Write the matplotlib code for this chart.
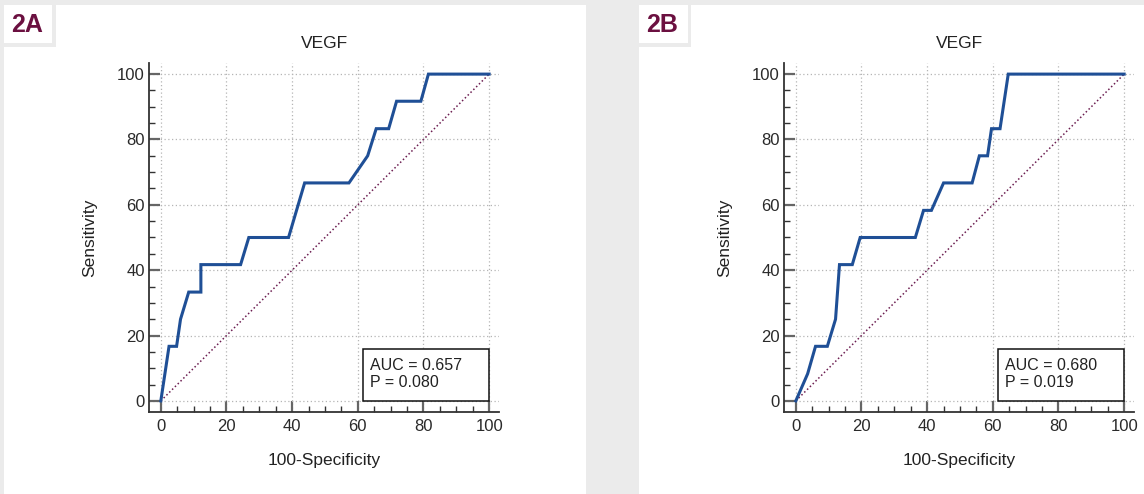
import matplotlib
matplotlib.use("Agg")
import matplotlib.pyplot as plt
from matplotlib.patches import Rectangle
from matplotlib import font_manager

# ---------------- data ----------------
panel_labels = ["2A", "2B"]
titles = ["VEGF", "VEGF"]
spec_a = [0, 2.5, 4.8, 6.0, 8.5, 12.2, 12.2, 24.3, 26.8, 38.9, 43.8, 57.3, 63.0, 65.6, 69.4, 71.8, 79.2, 81.5, 100]
sens_a = [0, 16.7, 16.7, 25.0, 33.3, 33.3, 41.7, 41.7, 50.0, 50.0, 66.7, 66.7, 75.0, 83.3, 83.3, 91.7, 91.7, 100, 100]
spec_b = [0, 3.6, 6.0, 9.6, 12.1, 13.3, 17.2, 19.6, 36.4, 38.9, 41.3, 45.0, 53.7, 55.9, 58.4, 59.6, 62.2, 64.7, 100]
sens_b = [0, 8.3, 16.7, 16.7, 25.0, 41.7, 41.7, 50.0, 50.0, 58.3, 58.3, 66.7, 66.7, 75.0, 75.0, 83.3, 83.3, 100, 100]
auc_texts = ["AUC = 0.657\nP = 0.080", "AUC = 0.680\nP = 0.019"]
ticks = [0, 20, 40, 60, 80, 100]
xlabel = "100-Specificity"
ylabel = "Sensitivity"

# ---------------- fonts ----------------
avail = {f.name for f in font_manager.fontManager.ttflist}
base_font = "Liberation Sans" if "Liberation Sans" in avail else "DejaVu Sans"
narrow_font = "Liberation Sans Narrow" if "Liberation Sans Narrow" in avail else base_font
plt.rcParams["font.family"] = [base_font, "DejaVu Sans"]

W, H = 1144, 494
fig = plt.figure(figsize=(W / 100, H / 100), dpi=100)
fig.patch.set_facecolor("#ebebeb")

def px_rect(x0, y0, x1, y1, color):
    fig.add_artist(Rectangle((x0 / W, 1 - y1 / H), (x1 - x0) / W, (y1 - y0) / H,
                             transform=fig.transFigure, facecolor=color,
                             edgecolor="none", zorder=0))

# panels
px_rect(4, 5, 586, 494, "white")
px_rect(639, 5, 1144, 494, "white")
# label box notches
px_rect(4, 5, 55.5, 47, "#ebebeb")
px_rect(4, 5, 52, 43, "white")
px_rect(639, 5, 691, 47, "#ebebeb")
px_rect(639, 5, 688, 43, "white")
fig.text(27 / W, 1 - 24.5 / H, panel_labels[0], ha="center", va="center",
         fontsize=18, fontweight="bold", color="#6b1040", family=narrow_font)
fig.text(662.5 / W, 1 - 24.5 / H, panel_labels[1], ha="center", va="center",
         fontsize=18, fontweight="bold", color="#6b1040", family=narrow_font)

xlim = (-3.6, 103.0)
ylim = (-3.4, 103.4)
axes_px = [(149, 63, 499, 412), (784, 63, 1134, 412)]
series = [(spec_a, sens_a), (spec_b, sens_b)]

for i, (x0, y0, x1, y1) in enumerate(axes_px):
    ax = fig.add_axes([x0 / W, 1 - y1 / H, (x1 - x0) / W, (y1 - y0) / H])
    ax.set_facecolor("none")
    ax.set_xlim(*xlim)
    ax.set_ylim(*ylim)
    for s in ["top", "right"]:
        ax.spines[s].set_visible(False)
    for s in ["left", "bottom"]:
        ax.spines[s].set_color("#333333")
        ax.spines[s].set_linewidth(1.3)
    ax.set_xticks(ticks)
    ax.set_yticks(ticks)
    ax.set_xticks(range(0, 101, 5), minor=True)
    ax.set_yticks(range(0, 101, 5), minor=True)
    ax.tick_params(which="major", direction="in", length=8, width=1.6,
                   color="#666666", labelsize=12, labelcolor="#2a2a2a")
    ax.tick_params(which="minor", direction="in", length=4.5, width=1.0,
                   color="#333333")
    ax.tick_params(axis="x", which="major", pad=5)
    ax.tick_params(axis="y", which="major", pad=3)
    ax.grid(True, which="major", color="#b5b5b5", linestyle=(0, (1, 2)), linewidth=0.9)
    ax.set_axisbelow(True)

    # diagonal reference
    ax.plot([0, 100], [0, 100], color="#6b1d50", linestyle=(0, (1, 1.6)),
            linewidth=1.1, zorder=2)
    sx, sy = series[i]
    ax.plot(sx, sy, color="#1f4f96", linewidth=2.2, solid_joinstyle="miter", zorder=3)

    ax.add_patch(Rectangle((61.6, 0), 38.4, 16.0, facecolor="white",
                           edgecolor="#111111", linewidth=1.1, zorder=4))
    ax.text(63.8, 8.2, auc_texts[i], ha="left", va="center", fontsize=11.5,
            color="#222222", linespacing=1.15, zorder=5)

    ax.set_title(titles[i], fontsize=12.5, color="#222222", pad=11)
    ax.set_xlabel(xlabel, fontsize=12.5, color="#222222", labelpad=14)
    ax.set_ylabel(ylabel, fontsize=12.5, color="#222222", labelpad=14)

fig.savefig("out.png", dpi=100, facecolor=fig.get_facecolor())
